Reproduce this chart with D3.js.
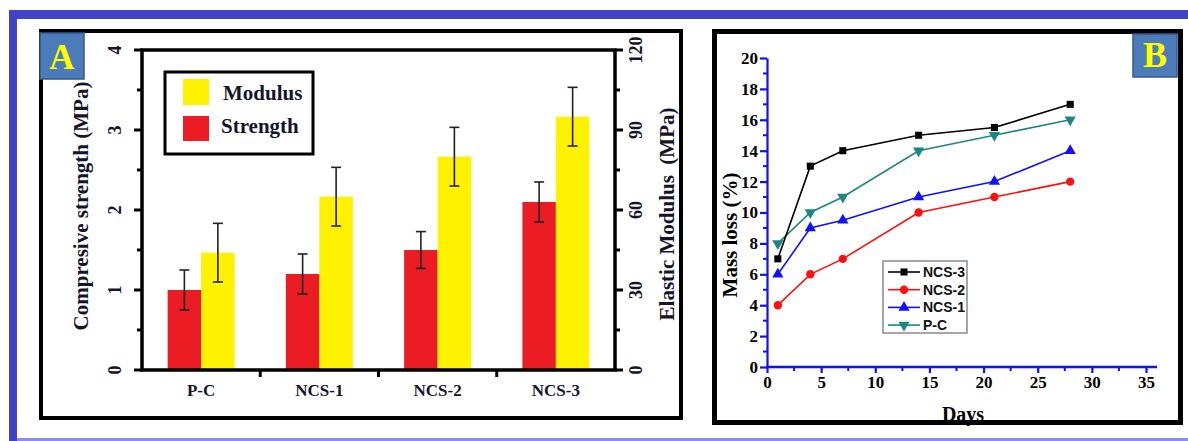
<!DOCTYPE html>
<html>
<head>
<meta charset="utf-8">
<script src="https://cdn.jsdelivr.net/npm/d3@7"></script>
<style>
  html, body { margin: 0; padding: 0; background: #ffffff; }
  svg { display: block; }
</style>
</head>
<body>
<div id="chart"></div>
<script>
// ---- data: panel A (bars) ----
var categories = ['P-C', 'NCS-1', 'NCS-2', 'NCS-3'];
var strength = [1.0, 1.2, 1.5, 2.1];
var strengthErr = [0.25, 0.25, 0.23, 0.25];
var modulus = [44, 65, 80, 95];
var modulusErr = [11, 11, 11, 11];
var strengthTicks = [0, 1, 2, 3, 4];
var modulusTicks = [0, 30, 60, 90, 120];

// ---- data: panel B (lines) ----
var days = [1, 4, 7, 14, 21, 28];
var lossNCS3 = [7, 13, 14, 15, 15.5, 17];
var lossNCS2 = [4, 6, 7, 10, 11, 12];
var lossNCS1 = [6, 9, 9.5, 11, 12, 14];
var lossPC = [8, 10, 11, 14, 15, 16];
var seriesNames = ['NCS-3', 'NCS-2', 'NCS-1', 'P-C'];
var dayTicks = [0, 5, 10, 15, 20, 25, 30, 35];
var lossTicks = [0, 2, 4, 6, 8, 10, 12, 14, 16, 18, 20];

(function () {
  var W = 1188, H = 441;
  var serif = '"Liberation Serif", "Times New Roman", serif';
  var sans = '"Liberation Sans", Arial, sans-serif';
  var ink = '#14142a';

  var svg = d3.select('#chart').append('svg')
    .attr('width', W).attr('height', H)
    .attr('viewBox', [0, 0, W, H]);

  // outer blue frame
  svg.append('rect').attr('x', 9).attr('y', 10).attr('width', W - 9).attr('height', 9).attr('fill', '#4343c9');
  svg.append('rect').attr('x', 9).attr('y', 10).attr('width', 8).attr('height', H - 10).attr('fill', '#4343c9');
  svg.append('rect').attr('x', 17).attr('y', 438).attr('width', W - 17).attr('height', 3).attr('fill', '#8c8cf2');

  // **********  Panel A  ********************************************** //
  var a = svg.append('g');
  a.append('rect').attr('x', 41).attr('y', 31).attr('width', 640).attr('height', 387)
    .attr('fill', 'none').attr('stroke', '#000').attr('stroke-width', 4);

  var ax = d3.scaleBand().domain(categories).range([142, 615]);
  var sub = d3.scaleBand().domain(['Strength', 'Modulus'])
    .range([0, ax.bandwidth()]).paddingOuter((ax.bandwidth() - 67) / 67);
  var yL = d3.scaleLinear().domain([0, 4]).range([370, 50]);
  var yR = d3.scaleLinear().domain([0, 120]).range([370, 50]);

  // bars
  var groups = a.selectAll('g.cat').data(categories).enter().append('g')
    .attr('transform', function (d) { return 'translate(' + ax(d) + ',0)'; });
  groups.append('rect')
    .attr('x', sub('Strength')).attr('width', sub.bandwidth())
    .attr('y', function (d, i) { return yL(strength[i]); })
    .attr('height', function (d, i) { return yL(0) - yL(strength[i]); })
    .attr('fill', '#ec1c24');
  groups.append('rect')
    .attr('x', sub('Modulus')).attr('width', sub.bandwidth())
    .attr('y', function (d, i) { return yR(modulus[i]); })
    .attr('height', function (d, i) { return yR(0) - yR(modulus[i]); })
    .attr('fill', '#fff200');

  // error bars
  function errBar(g, cx, top, bot) {
    g.append('line').attr('x1', cx).attr('x2', cx).attr('y1', top).attr('y2', bot);
    g.append('line').attr('x1', cx - 5).attr('x2', cx + 5).attr('y1', top).attr('y2', top);
    g.append('line').attr('x1', cx - 5).attr('x2', cx + 5).attr('y1', bot).attr('y2', bot);
  }
  groups.each(function (d, i) {
    var g = d3.select(this).append('g').attr('stroke', '#222').attr('stroke-width', 1.6);
    var cs = sub('Strength') + sub.bandwidth() / 2;
    var cm = sub('Modulus') + sub.bandwidth() / 2;
    errBar(g, cs, yL(strength[i] + strengthErr[i]), yL(strength[i] - strengthErr[i]));
    errBar(g, cm, yR(modulus[i] + modulusErr[i]), yR(modulus[i] - modulusErr[i]));
  });

  // axes
  var axisG = a.append('g').attr('stroke', '#000').attr('fill', 'none');
  axisG.append('rect').attr('x', 142).attr('y', 50).attr('width', 473).attr('height', 320)
    .attr('stroke-width', 3.5);
  d3.range(0, 4.01, 0.5).forEach(function (v) {
    var major = v % 1 === 0;
    axisG.append('line').attr('x1', 142).attr('x2', major ? 134 : 137)
      .attr('y1', yL(v)).attr('y2', yL(v)).attr('stroke-width', 3);
  });
  d3.range(0, 120.1, 15).forEach(function (v) {
    var major = v % 30 === 0;
    axisG.append('line').attr('x1', 615).attr('x2', major ? 623 : 620)
      .attr('y1', yR(v)).attr('y2', yR(v)).attr('stroke-width', 3);
  });
  categories.slice(1).forEach(function (c) {
    axisG.append('line').attr('x1', ax(c)).attr('x2', ax(c))
      .attr('y1', 370).attr('y2', 377).attr('stroke-width', 3);
  });

  a.selectAll('text.yl').data(strengthTicks).enter().append('text')
    .attr('transform', function (d) { return 'translate(121,' + yL(d) + ') rotate(-90)'; })
    .attr('text-anchor', 'middle')
    .attr('font-family', serif).attr('font-weight', 'bold').attr('font-size', 18)
    .attr('fill', ink).text(function (d) { return d; });
  a.selectAll('text.yr').data(modulusTicks).enter().append('text')
    .attr('transform', function (d) { return 'translate(642,' + yR(d) + ') rotate(-90)'; })
    .attr('text-anchor', 'middle')
    .attr('font-family', serif).attr('font-weight', 'bold').attr('font-size', 18)
    .attr('fill', ink).text(function (d) { return d; });
  a.selectAll('text.xl').data(categories).enter().append('text')
    .attr('x', function (d) { return ax(d) + ax.bandwidth() / 2; }).attr('y', 396)
    .attr('text-anchor', 'middle')
    .attr('font-family', serif).attr('font-weight', 'bold').attr('font-size', 17)
    .attr('fill', ink).text(function (d) { return d; });

  a.append('text').attr('transform', 'translate(88,206) rotate(-90)')
    .attr('text-anchor', 'middle')
    .attr('font-family', serif).attr('font-weight', 'bold').attr('font-size', 21)
    .attr('fill', ink).text('Compresive strength (MPa)');
  a.append('text').attr('transform', 'translate(674,214) rotate(-90)')
    .attr('text-anchor', 'middle')
    .attr('font-family', serif).attr('font-weight', 'bold').attr('font-size', 21)
    .attr('fill', ink).attr('xml:space', 'preserve').text('Elastic Modulus  (MPa)');

  // legend A
  var la = a.append('g');
  la.append('rect').attr('x', 165).attr('y', 72).attr('width', 148).attr('height', 82)
    .attr('fill', '#fff').attr('stroke', '#000').attr('stroke-width', 3);
  la.append('rect').attr('x', 183).attr('y', 79).attr('width', 26).attr('height', 26).attr('fill', '#fff200');
  la.append('rect').attr('x', 183).attr('y', 116).attr('width', 26).attr('height', 25).attr('fill', '#ec1c24');
  la.append('text').attr('x', 223).attr('y', 100)
    .attr('font-family', serif).attr('font-weight', 'bold').attr('font-size', 21)
    .attr('fill', ink).text('Modulus');
  la.append('text').attr('x', 221).attr('y', 133)
    .attr('font-family', serif).attr('font-weight', 'bold').attr('font-size', 21)
    .attr('fill', ink).text('Strength');

  // label A
  a.append('rect').attr('x', 40).attr('y', 33).attr('width', 44).attr('height', 46)
    .attr('fill', '#4b7bb8').attr('stroke', '#34598a').attr('stroke-width', 1.5);
  a.append('text').attr('x', 62).attr('y', 69).attr('text-anchor', 'middle')
    .attr('font-family', serif).attr('font-weight', 'bold').attr('font-size', 35)
    .attr('fill', '#ffff00').text('A');

  // **********  Panel B  ********************************************** //
  var b = svg.append('g');

  var bx = d3.scaleLinear().domain([0, 35]).range([767, 1146]);
  var by = d3.scaleLinear().domain([0, 20]).range([367, 58]);
  var blue = '#1010f0';

  var yAxisB = b.append('g').attr('transform', 'translate(767,0)')
    .call(d3.axisLeft(by).tickValues(lossTicks).tickSize(7).tickSizeOuter(0));
  yAxisB.selectAll('path, line').attr('stroke', blue).attr('stroke-width', 2.2);
  yAxisB.selectAll('text').attr('font-family', serif).attr('font-weight', 'bold')
    .attr('font-size', 17).attr('fill', '#000').attr('x', -9);
  b.append('g').attr('stroke', blue).attr('stroke-width', 2).selectAll('line')
    .data(d3.range(1, 20, 2)).enter().append('line')
    .attr('x1', 767).attr('x2', 763).attr('y1', by).attr('y2', by);

  b.append('line').attr('x1', 766).attr('x2', 1157).attr('y1', 367).attr('y2', 367)
    .attr('stroke', blue).attr('stroke-width', 2.5);
  var xAxisB = b.append('g').attr('transform', 'translate(0,367)')
    .call(d3.axisBottom(bx).tickValues(dayTicks).tickSize(6).tickSizeOuter(0));
  xAxisB.select('.domain').remove();
  xAxisB.selectAll('line').attr('stroke', blue).attr('stroke-width', 2.2);
  xAxisB.selectAll('text').attr('font-family', serif).attr('font-weight', 'bold')
    .attr('font-size', 17).attr('fill', '#000').attr('y', 9);
  b.append('g').attr('stroke', blue).attr('stroke-width', 2).selectAll('line')
    .data(d3.range(2.5, 35, 5)).enter().append('line')
    .attr('x1', bx).attr('x2', bx).attr('y1', 367).attr('y2', 371);

  b.append('text').attr('x', 963).attr('y', 421).attr('text-anchor', 'middle')
    .attr('font-family', serif).attr('font-weight', 'bold').attr('font-size', 20)
    .attr('fill', '#000').text('Days');
  b.append('text').attr('transform', 'translate(737,235) rotate(-90)')
    .attr('text-anchor', 'middle')
    .attr('font-family', serif).attr('font-weight', 'bold').attr('font-size', 21)
    .attr('fill', '#000').text('Mass loss (%)');

  var series = [
    { name: 'NCS-3', values: lossNCS3, color: '#000000', symbol: d3.symbolSquare, rot: 0, size: 50 },
    { name: 'NCS-2', values: lossNCS2, color: '#ff1010', symbol: d3.symbolCircle, rot: 0, size: 55 },
    { name: 'NCS-1', values: lossNCS1, color: '#1010ff', symbol: d3.symbolTriangle, rot: 0, size: 55 },
    { name: 'P-C', values: lossPC, color: '#1c8585', symbol: d3.symbolTriangle, rot: 180, size: 55 }
  ];

  var line = d3.line()
    .x(function (d, i) { return bx(days[i]); })
    .y(function (d) { return by(d); });

  series.slice().reverse().forEach(function (s) {
    var g = b.append('g');
    g.append('path').datum(s.values).attr('d', line)
      .attr('fill', 'none').attr('stroke', s.color).attr('stroke-width', 1.6);
    g.selectAll('path.m').data(s.values).enter().append('path')
      .attr('d', d3.symbol().type(s.symbol).size(s.size))
      .attr('transform', function (d, i) {
        return 'translate(' + bx(days[i]) + ',' + by(d) + ') rotate(' + s.rot + ')';
      })
      .attr('fill', s.color);
  });

  // legend B
  var lb = b.append('g');
  lb.append('rect').attr('x', 883).attr('y', 261).attr('width', 84).attr('height', 72)
    .attr('fill', '#fff').attr('stroke', '#8a8a8a').attr('stroke-width', 1.5);
  seriesNames.forEach(function (n, i) {
    var s = series[i];
    var cy = 272 + i * 17.7;
    lb.append('line').attr('x1', 888).attr('x2', 920).attr('y1', cy).attr('y2', cy)
      .attr('stroke', s.color).attr('stroke-width', 1.6);
    lb.append('path').attr('d', d3.symbol().type(s.symbol).size(s.size))
      .attr('transform', 'translate(904,' + cy + ') rotate(' + s.rot + ')')
      .attr('fill', s.color);
    lb.append('text').attr('x', 923).attr('y', cy + 5)
      .attr('font-family', sans).attr('font-weight', 'bold').attr('font-size', 14)
      .attr('fill', '#111').text(n);
  });

  // panel B frame drawn last so it clips the axis title
  b.append('rect').attr('x', 714.5).attr('y', 31.5).attr('width', 466).attr('height', 391)
    .attr('fill', 'none').attr('stroke', '#000').attr('stroke-width', 5);
  b.append('rect').attr('x', 1133).attr('y', 34).attr('width', 44).attr('height', 43)
    .attr('fill', '#4b7bb8').attr('stroke', '#34598a').attr('stroke-width', 1.5);
  b.append('text').attr('x', 1155).attr('y', 67).attr('text-anchor', 'middle')
    .attr('font-family', serif).attr('font-weight', 'bold').attr('font-size', 36)
    .attr('fill', '#ffff00').text('B');
})();
</script>
</body>
</html>
